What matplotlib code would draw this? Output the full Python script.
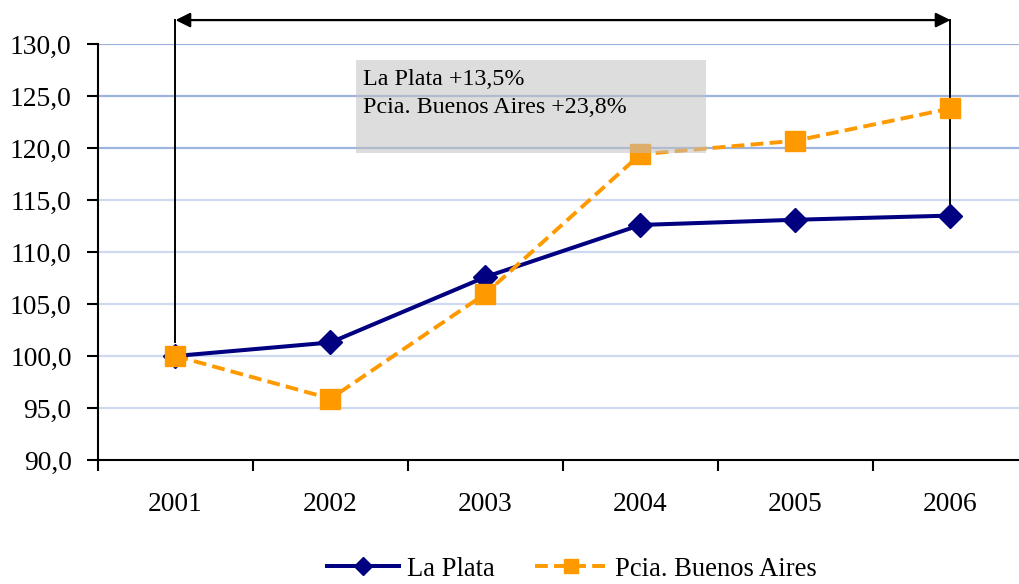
import matplotlib
matplotlib.use("Agg")
import matplotlib.pyplot as plt
from matplotlib.patches import Rectangle
from matplotlib.ticker import FixedLocator

years = ["2001", "2002", "2003", "2004", "2005", "2006"]
la_plata = [100.0, 101.3, 107.6, 112.6, 113.1, 113.5]
pcia_ba = [100.0, 95.9, 106.0, 119.4, 120.7, 123.8]
series_names = ["La Plata", "Pcia. Buenos Aires"]
yticks = [90, 95, 100, 105, 110, 115, 120, 125, 130]
box_text = "La Plata +13,5%\nPcia. Buenos Aires +23,8%"

plt.rcParams['font.family'] = ['Liberation Serif', 'DejaVu Serif']

fig = plt.figure(figsize=(10.2, 5.84), dpi=100)
ax = fig.add_axes([98/1020, 124/584, 930/1020, 416/584])

x = list(range(len(years)))
ax.set_xlim(-0.5, len(years) - 0.5)
ax.set_ylim(90, 130)

# gridlines
for v in yticks[1:]:
    col = '#9DB4DF' if v >= 120 else '#CFDAF0'
    ax.axhline(v, color=col, lw=1.6, zorder=1)

ax.plot(x, la_plata, color='#000080', lw=2.9, marker='D', markersize=12.5,
        zorder=4, label=series_names[0], clip_on=False)
ax.plot(x, pcia_ba, color='#FF9900', lw=2.8, ls=(0, (3.3, 1.6)), marker='s',
        markersize=14.5, zorder=5, label=series_names[1], clip_on=False)

# range arrow
ytop = 132.3
ax.annotate('', xy=(x[0], ytop), xytext=(x[-1], ytop),
            arrowprops=dict(arrowstyle='<|-|>', color='black', lw=1.6,
                            mutation_scale=22, shrinkA=0, shrinkB=0),
            annotation_clip=False, zorder=3)
ax.plot([x[0], x[0]], [ytop, la_plata[0] + 1.3], color='black', lw=1.4,
        clip_on=False, zorder=3)
ax.plot([x[-1], x[-1]], [ytop, la_plata[-1]], color='black', lw=1.4,
        clip_on=False, zorder=3)

# grey text box
rect = Rectangle((0.2774, 0.738), 0.3763, 0.2235, transform=ax.transAxes,
                 facecolor=(193/255, 193/255, 193/255), alpha=0.55,
                 edgecolor='none', zorder=6)
ax.add_patch(rect)
ax.text(0.2774 + 0.0075, 0.9615 - 0.022, box_text, transform=ax.transAxes,
        fontsize=17.3, va='top', ha='left', linespacing=1.4, zorder=7)

# axes styling
for s in ['top', 'right']:
    ax.spines[s].set_visible(False)
for s in ['left', 'bottom']:
    ax.spines[s].set_linewidth(1.5)
    ax.spines[s].set_color('black')
    ax.spines[s].set_zorder(8)

ax.set_yticks(yticks)
ax.set_yticklabels([f"{v:.1f}".replace('.', ',') for v in yticks])
ax.tick_params(axis='y', length=8, width=1.5, pad=11, labelsize=19.8)

ax.set_xticks(x)
ax.set_xticklabels(years)
ax.tick_params(axis='x', which='major', length=0, pad=23, labelsize=19.8)
ax.xaxis.set_minor_locator(FixedLocator([i - 0.5 for i in range(len(years) + 1)]))
ax.tick_params(axis='x', which='minor', length=8, width=1.5, direction='out')

fig.legend(loc='center', bbox_to_anchor=(572/1020, 1 - 569/584), ncol=2,
           frameon=False, fontsize=19.2, handlelength=2.7, handletextpad=0.3,
           columnspacing=1.5, borderpad=0, markerscale=0.7)

fig.savefig('out.png', dpi=100)
